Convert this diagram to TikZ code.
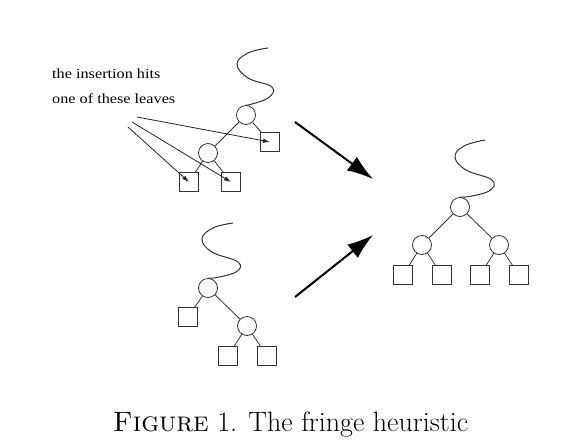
\documentclass[tikz,border=0pt]{standalone}
\usepackage{fontspec}
\newfontfamily\notefont[FakeStretch=1.16]{Liberation Serif}
\usetikzlibrary{arrows.meta}
\begin{document}
\begin{tikzpicture}[x=1pt,y=-1pt,
  inner/.style={circle,draw=black!80,line width=0.8pt,minimum size=19pt,inner sep=0pt},
  leaf/.style={rectangle,draw=black!80,line width=0.8pt,minimum size=19pt,inner sep=0pt},
  edge/.style={draw=black!80,line width=0.8pt},
  squig/.style={draw=black!80,line width=1pt},
  hint/.style={draw=black!85,line width=0.8pt,-{Latex[length=7pt,width=4.5pt]}},
  bigarrow/.style={draw=black,line width=2pt,-{Latex[length=26pt,width=17pt]}},
  note/.style={font=\notefont\fontsize{14}{16}\selectfont,anchor=base west,inner sep=0pt}]
\useasboundingbox (0,0) rectangle (565,445);
\fill[white] (0,0) rectangle (565,445);

% ---- top-left tree
\node[inner] (a) at (246,115) {};
\node[leaf] (ar) at (270,142) {};
\node[inner] (b) at (208,153) {};
\node[leaf] (bl) at (189,182) {};
\node[leaf] (br) at (231,182) {};
\draw[edge] (a) -- (ar);
\draw[edge] (a) -- (b);
\draw[edge] (b) -- (bl);
\draw[edge] (b) -- (br);
\draw[squig] plot[smooth,tension=0.7] coordinates {(268,48) (248,53) (237,64) (248,78) (272,87) (268,98) (248,105)} -- (a.north);

% annotation
\node[note] (t1) at (52,78) {the insertion hits};
\node[note] (t2) at (52,103) {one of these leaves};
\coordinate (h1) at (137,117);
\coordinate (h2) at (132,122);
\coordinate (h3) at (128,127);
\draw[hint] (h1) -- (ar.center);
\draw[hint] (h2) -- (br.center);
\draw[hint] (h3) -- (bl.center);

% ---- bottom-left tree
\node[inner] (c) at (208,288) {};
\node[leaf] (cl) at (188,317) {};
\node[inner] (d) at (247,326) {};
\node[leaf] (dl) at (228,356) {};
\node[leaf] (dr) at (267,356) {};
\draw[edge] (c) -- (cl);
\draw[edge] (c) -- (d);
\draw[edge] (d) -- (dl);
\draw[edge] (d) -- (dr);
\draw[squig] plot[smooth,tension=0.7] coordinates {(233,223) (213,228) (202,239) (212,252) (238,262) (236,272) (214,278)} -- (c.north);

% ---- right tree
\node[inner] (e) at (460,207) {};
\node[inner] (f) at (422,245) {};
\node[inner] (g) at (499,245) {};
\node[leaf] (f1) at (403,275) {};
\node[leaf] (f2) at (442,275) {};
\node[leaf] (g1) at (480,275) {};
\node[leaf] (g2) at (519,275) {};
\draw[edge] (e) -- (f);
\draw[edge] (e) -- (g);
\draw[edge] (f) -- (f1);
\draw[edge] (f) -- (f2);
\draw[edge] (g) -- (g1);
\draw[edge] (g) -- (g2);
\draw[squig] plot[smooth,tension=0.7] coordinates {(485,140) (464,146) (455,157) (466,170) (492,180) (489,191) (466,197)} -- (e.north);

% ---- big arrows
\coordinate (p1) at (295,122);
\coordinate (q1) at (373,179);
\coordinate (p2) at (295,297);
\coordinate (q2) at (373,235);
\draw[bigarrow] (p1) -- (q1);
\draw[bigarrow] (p2) -- (q2);

% ---- caption
\node[anchor=base,inner sep=0pt,font=\fontsize{28}{32}\selectfont] (cap) at (290.5,431) {\textsc{Figure} 1. The fringe heuristic};
\end{tikzpicture}
\end{document}
